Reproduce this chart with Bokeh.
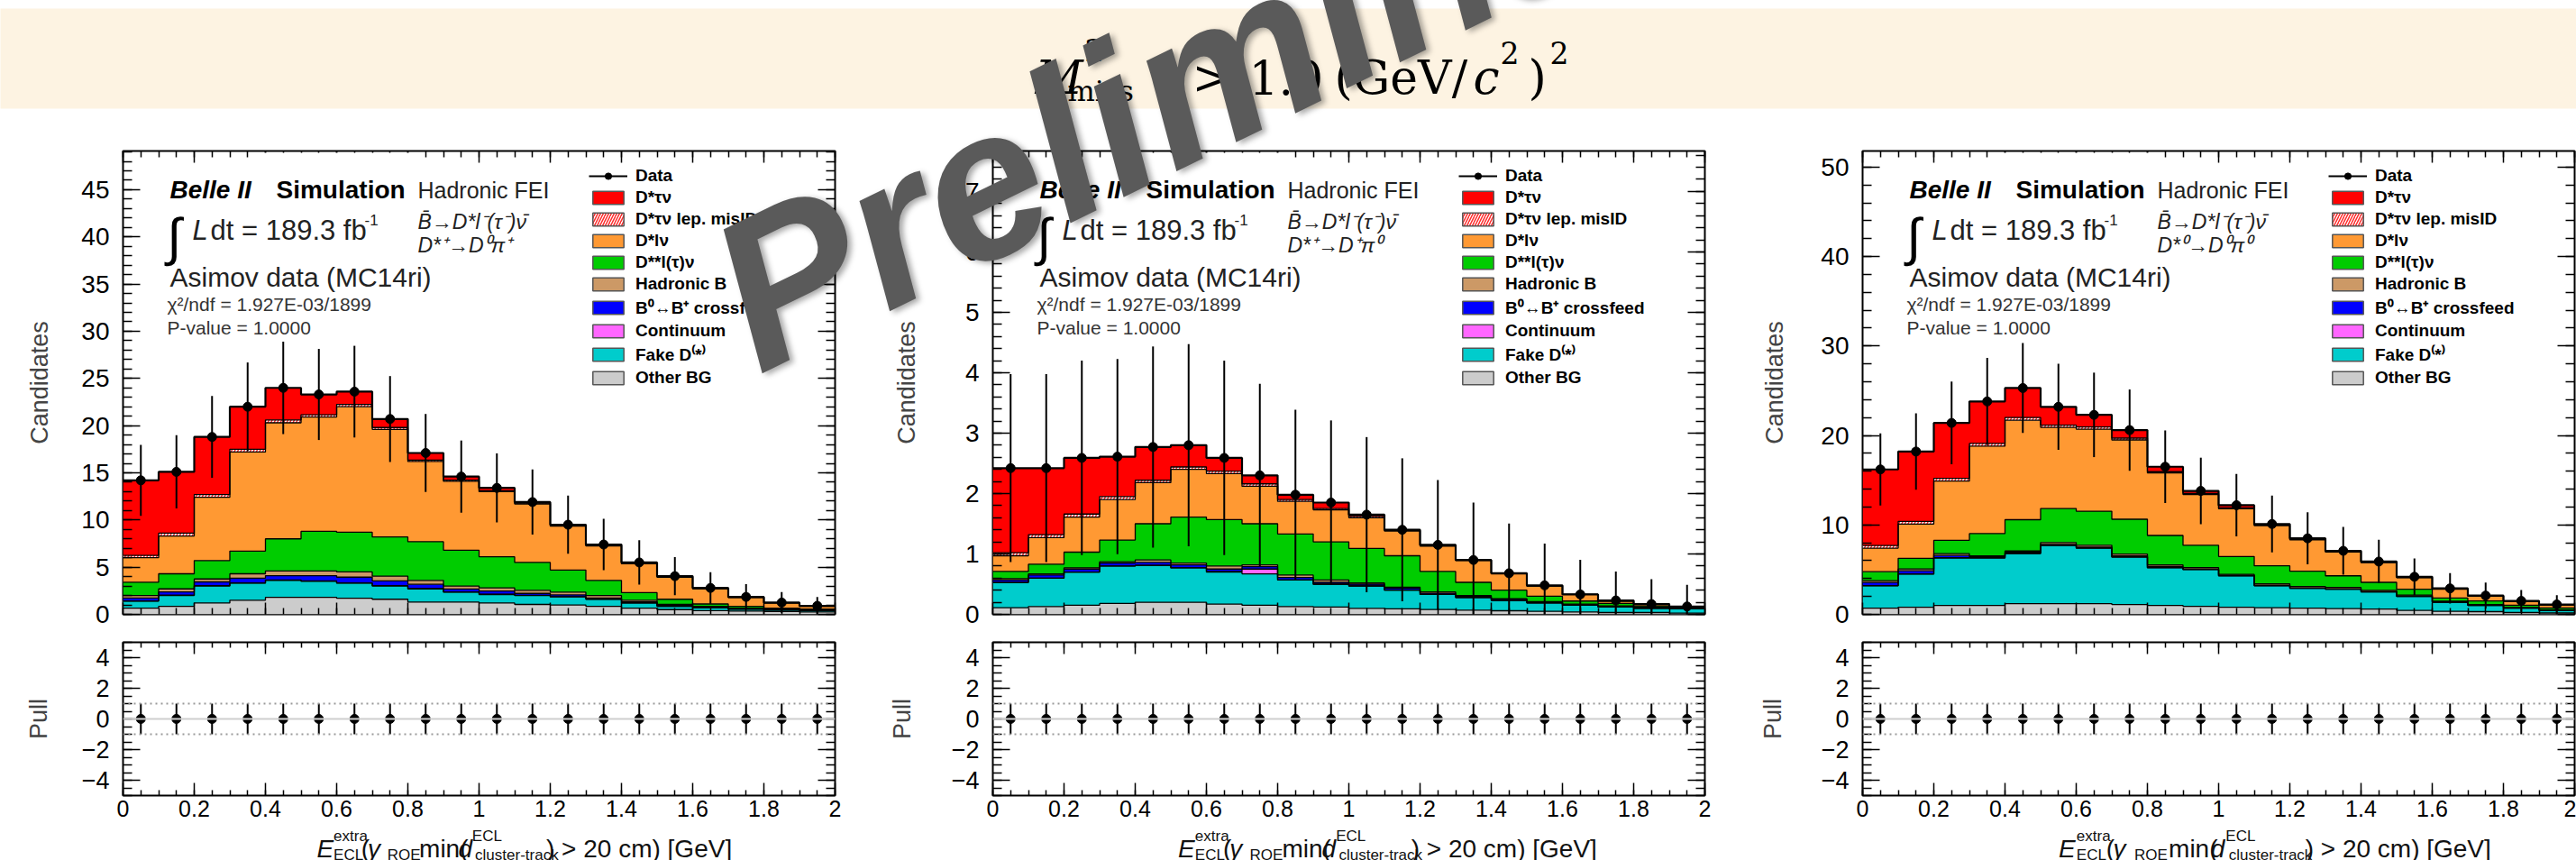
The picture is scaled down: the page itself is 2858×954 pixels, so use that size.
import math
import numpy as np
from bokeh.plotting import figure
from bokeh.models import (Range1d, LinearAxis, FixedTicker, Label, Legend, LegendItem,
                          Span, BoxAnnotation, CustomJSTickFormatter, Div)
from bokeh.layouts import column, row
from bokeh.embed import file_html
from bokeh.resources import INLINE

# ---------------------------------------------------------------- data
bin_edges = [0.0, 0.1, 0.2, 0.3, 0.4, 0.5, 0.6, 0.7, 0.8, 0.9, 1.0,
             1.1, 1.2, 1.3, 1.4, 1.5, 1.6, 1.7, 1.8, 1.9, 2.0]
bin_centers = [0.05, 0.15, 0.25, 0.35, 0.45, 0.55, 0.65, 0.75, 0.85, 0.95,
               1.05, 1.15, 1.25, 1.35, 1.45, 1.55, 1.65, 1.75, 1.85, 1.95]
x_tick_values = [0.0, 0.2, 0.4, 0.6, 0.8, 1.0, 1.2, 1.4, 1.6, 1.8, 2.0]
x_tick_labels = ["0", "0.2", "0.4", "0.6", "0.8", "1", "1.2", "1.4", "1.6", "1.8", "2"]

decay_modes = ["D*⁺→D⁰π⁺", "D*⁺→D⁺π⁰", "D*⁰→D⁰π⁰"]

# panel 1 : D*+ -> D0 pi+
p1_data = [14.2, 15.1, 18.8, 22.0, 24.0, 23.3, 23.6, 20.7, 17.1, 14.6, 13.4, 11.9, 9.5, 7.4, 5.5, 4.05, 2.8, 1.85, 1.25, 0.9]
p1_other = [0.65, 0.85, 1.2, 1.5, 1.8, 1.8, 1.7, 1.6, 1.3, 1.3, 1.2, 1.05, 1.0, 0.85, 0.65, 0.5, 0.4, 0.35, 0.3, 0.25]
p1_fake = [0.75, 1.15, 1.8, 1.8, 1.8, 1.7, 1.6, 1.4, 1.4, 1.05, 0.9, 0.95, 0.85, 0.75, 0.55, 0.35, 0.3, 0.2, 0.15, 0.15]
p1_cont = [0.03, 0.03, 0.04, 0.04, 0.05, 0.05, 0.04, 0.04, 0.03, 0.03, 0.03, 0.02, 0.02, 0.02, 0.02, 0.01, 0.01, 0.01, 0.01, 0.01]
p1_xfeed = [0.3, 0.35, 0.4, 0.5, 0.45, 0.55, 0.6, 0.5, 0.45, 0.3, 0.35, 0.2, 0.2, 0.12, 0.1, 0.08, 0.05, 0.04, 0.03, 0.02]
p1_hadb = [0.27, 0.32, 0.31, 0.46, 0.5, 0.5, 0.56, 0.51, 0.42, 0.32, 0.32, 0.33, 0.28, 0.26, 0.18, 0.11, 0.09, 0.05, 0.06, 0.02]
p1_dss = [1.4, 1.6, 1.95, 2.4, 3.4, 4.2, 4.2, 4.15, 4.1, 3.8, 3.3, 2.95, 2.35, 1.6, 0.8, 0.55, 0.25, 0.2, 0.1, 0.1]
p1_dsl = [2.6, 4.0, 6.7, 10.5, 12.3, 12.1, 13.3, 11.4, 8.5, 7.3, 6.9, 6.2, 4.64, 3.65, 3.06, 2.34, 1.62, 0.93, 0.55, 0.31]
p1_misid = [0.25, 0.3, 0.3, 0.3, 0.3, 0.25, 0.25, 0.2, 0.15, 0.12, 0.1, 0.08, 0.06, 0.05, 0.04, 0.03, 0.02, 0.02, 0.01, 0.01]
p1_dtn = [7.95, 6.5, 6.1, 4.5, 3.4, 2.15, 1.35, 0.9, 0.75, 0.38, 0.3, 0.12, 0.1, 0.1, 0.1, 0.08, 0.06, 0.05, 0.04, 0.03]

# panel 2 : D*+ -> D+ pi0
p2_data = [2.42, 2.42, 2.59, 2.61, 2.77, 2.80, 2.59, 2.30, 1.98, 1.85, 1.65, 1.40, 1.15, 0.90, 0.68, 0.48, 0.33, 0.23, 0.17, 0.13]
p2_other = [0.11, 0.13, 0.15, 0.18, 0.20, 0.20, 0.17, 0.15, 0.13, 0.12, 0.10, 0.09, 0.08, 0.07, 0.06, 0.05, 0.04, 0.03, 0.03, 0.02]
p2_fake = [0.42, 0.47, 0.55, 0.62, 0.61, 0.57, 0.53, 0.52, 0.44, 0.38, 0.37, 0.31, 0.25, 0.21, 0.17, 0.14, 0.11, 0.09, 0.07, 0.07]
p2_cont = [0.0, 0.0, 0.0, 0.0, 0.0, 0.0, 0.01, 0.08, 0.0, 0.0, 0.0, 0.0, 0.0, 0.0, 0.0, 0.0, 0.0, 0.0, 0.0, 0.0]
p2_xfeed = [0.04, 0.05, 0.05, 0.05, 0.05, 0.05, 0.04, 0.04, 0.04, 0.03, 0.03, 0.03, 0.02, 0.02, 0.02, 0.01, 0.01, 0.01, 0.01, 0.01]
p2_hadb = [0.02, 0.02, 0.02, 0.02, 0.04, 0.03, 0.05, 0.03, 0.04, 0.04, 0.02, 0.02, 0.02, 0.01, 0.01, 0.01, 0.01, 0.01, 0.01, 0.01]
p2_dss = [0.12, 0.16, 0.26, 0.36, 0.60, 0.76, 0.77, 0.68, 0.68, 0.63, 0.57, 0.52, 0.34, 0.22, 0.14, 0.09, 0.05, 0.04, 0.02, 0.01]
p2_dsl = [0.26, 0.44, 0.58, 0.67, 0.68, 0.79, 0.76, 0.62, 0.54, 0.53, 0.51, 0.41, 0.42, 0.36, 0.27, 0.17, 0.11, 0.04, 0.03, 0.01]
p2_misid = [0.05, 0.05, 0.05, 0.05, 0.04, 0.04, 0.04, 0.04, 0.03, 0.02, 0.02, 0.01, 0.01, 0.01, 0.01, 0.0, 0.0, 0.0, 0.0, 0.0]
p2_dtn = [1.40, 1.10, 0.93, 0.66, 0.55, 0.36, 0.22, 0.14, 0.08, 0.10, 0.03, 0.01, 0.01, 0.0, 0.0, 0.01, 0.0, 0.01, 0.0, 0.0]

# panel 3 : D*0 -> D0 pi0
p3_data = [16.2, 18.2, 21.4, 23.8, 25.3, 23.2, 22.3, 20.6, 16.5, 13.8, 12.2, 10.1, 8.5, 7.1, 5.9, 4.2, 2.9, 2.1, 1.5, 1.1]
p3_other = [0.7, 0.8, 1.0, 1.0, 1.2, 1.2, 1.2, 1.1, 1.0, 0.9, 0.8, 0.75, 0.7, 0.65, 0.6, 0.45, 0.35, 0.3, 0.2, 0.15]
p3_fake = [2.5, 3.7, 5.3, 5.3, 5.6, 6.5, 6.2, 5.3, 4.2, 4.1, 3.5, 2.45, 2.2, 2.15, 1.9, 1.55, 1.0, 0.7, 0.5, 0.3]
p3_cont = [0.02, 0.02, 0.03, 0.03, 0.03, 0.03, 0.03, 0.03, 0.02, 0.02, 0.02, 0.02, 0.02, 0.01, 0.01, 0.01, 0.01, 0.01, 0.0, 0.0]
p3_xfeed = [0.35, 0.35, 0.25, 0.1, 0.1, 0.1, 0.1, 0.1, 0.1, 0.05, 0.05, 0.05, 0.05, 0.05, 0.05, 0.04, 0.03, 0.03, 0.02, 0.02]
p3_hadb = [0.2, 0.2, 0.2, 0.1, 0.15, 0.2, 0.2, 0.2, 0.2, 0.15, 0.1, 0.15, 0.15, 0.15, 0.12, 0.1, 0.08, 0.06, 0.05, 0.04]
p3_dss = [1.0, 1.2, 1.5, 2.5, 3.5, 3.8, 3.8, 3.9, 3.3, 2.5, 2.0, 2.0, 1.7, 1.3, 0.9, 0.65, 0.35, 0.4, 0.25, 0.2]
p3_dsl = [2.63, 3.83, 6.62, 9.77, 11.12, 9.07, 9.17, 8.87, 6.98, 5.68, 5.33, 4.5, 3.52, 2.66, 2.2, 1.3, 1.0, 0.53, 0.43, 0.35]
p3_misid = [0.3, 0.3, 0.3, 0.3, 0.3, 0.25, 0.25, 0.2, 0.15, 0.12, 0.1, 0.08, 0.06, 0.05, 0.04, 0.03, 0.02, 0.02, 0.01, 0.01]
p3_dtn = [8.5, 7.8, 6.2, 4.7, 3.3, 2.05, 1.35, 0.9, 0.55, 0.28, 0.3, 0.1, 0.1, 0.08, 0.08, 0.07, 0.06, 0.05, 0.04, 0.03]

# pull panel (identical for the three channels)
pull_values = [0, 0, 0, 0, 0, 0, 0, 0, 0, 0, 0, 0, 0, 0, 0, 0, 0, 0, 0, 0]
pull_errors = [1, 1, 1, 1, 1, 1, 1, 1, 1, 1, 1, 1, 1, 1, 1, 1, 1, 1, 1, 1]

# stacking order (bottom -> top): key, legend label, colour
COMPONENTS = [
    ("other", "Other BG", "#cccccc"),
    ("fake", "Fake D⁽*⁾", "#00cccc"),
    ("cont", "Continuum", "#ff66ff"),
    ("xfeed", "B⁰↔B⁺ crossfeed", "#0000ff"),
    ("hadb", "Hadronic B", "#cc9966"),
    ("dss", "D**l(τ)ν", "#00cc00"),
    ("dsl", "D*lν", "#ff9933"),
    ("misid", "D*τν lep. misID", "hatch"),
    ("dtn", "D*τν", "#ff0000"),
]

panels = [
    dict(data=p1_data, comp=dict(other=p1_other, fake=p1_fake, cont=p1_cont, xfeed=p1_xfeed,
                                 hadb=p1_hadb, dss=p1_dss, dsl=p1_dsl, misid=p1_misid, dtn=p1_dtn)),
    dict(data=p2_data, comp=dict(other=p2_other, fake=p2_fake, cont=p2_cont, xfeed=p2_xfeed,
                                 hadb=p2_hadb, dss=p2_dss, dsl=p2_dsl, misid=p2_misid, dtn=p2_dtn)),
    dict(data=p3_data, comp=dict(other=p3_other, fake=p3_fake, cont=p3_cont, xfeed=p3_xfeed,
                                 hadb=p3_hadb, dss=p3_dss, dsl=p3_dsl, misid=p3_misid, dtn=p3_dtn)),
]

# ---------------------------------------------------------------- layout constants (page px)
FONT = "Liberation Sans"
SERIF = "DejaVu Serif"
PAGE_W = 2858
BAND_H = 140                      # 0 .. 140
MAIN_TOP, MAIN_H = 140, 557       # 140 .. 697
PULL_TOP, PULL_H = 697, 217       # 697 .. 914
XT_TOP, XT_H = 914, 40            # 914 .. 954
FT, FB = 167, 681                 # main frame
PT, PB = 712, 882                 # pull frame

STRIPS = [
    dict(left=0, width=981, ml=136, mr=55, ymax=49.1, ystep=5, yminor=1, cand_st=28, pull_st=30),
    dict(left=981, width=965, ml=120, mr=55, ymax=7.67, ystep=1, yminor=0.2, cand_st=47, pull_st=37),
    dict(left=1946, width=912, ml=120, mr=2, ymax=51.8, ystep=10, yminor=2, cand_st=33, pull_st=36),
]


def mapper(fl, fr, ft, fb, x0, x1, y0, y1):
    def f(px, py):
        return (x0 + (px - fl) * (x1 - x0) / (fr - fl),
                y0 + (fb - py) * (y1 - y0) / (fb - ft))
    return f


def put(p, m, px, py, text, size, style="normal", color="black", font=FONT,
        align="left", baseline="alphabetic"):
    x, y = m(px, py)
    p.add_layout(Label(x=x, y=y, text=text, text_font=font, text_font_size=f"{size}px",
                       text_font_style=style, text_color=color, text_align=align,
                       text_baseline=baseline))


def frange(a, b, s):
    n = int(round((b - a) / s))
    return [round(a + i * s, 6) for i in range(n + 1)]


def make_axis(ticks, minor, tin, min_in, labels=True, size="28px", standoff=15):
    ax = LinearAxis(ticker=FixedTicker(ticks=ticks, minor_ticks=minor))
    ax.axis_line_color = None
    ax.major_tick_in, ax.major_tick_out = tin, 0
    ax.minor_tick_in, ax.minor_tick_out = min_in, 0
    ax.major_tick_line_color = "black"
    ax.minor_tick_line_color = "black"
    ax.major_tick_line_width = 1.5
    ax.minor_tick_line_width = 1.5
    if labels:
        ax.major_label_text_font = FONT
        ax.major_label_text_font_size = size
        ax.major_label_text_color = "black"
        ax.major_label_standoff = standoff
    else:
        ax.formatter = CustomJSTickFormatter(code="return ''")
        ax.major_label_text_font_size = "0px"
        ax.major_label_standoff = 0
    return ax


def step_xy(vals):
    e = np.array(bin_edges)
    xs = np.repeat(e, 2)[1:-1]
    ys = np.repeat(np.asarray(vals, dtype=float), 2)
    return xs, ys


def blank(width, height, xr, yr):
    f = figure(width=width, height=height, x_range=Range1d(*xr), y_range=Range1d(*yr),
               output_backend="svg", toolbar_location=None,
               x_axis_location=None, y_axis_location=None,
               min_border_left=0, min_border_right=0, min_border_top=0, min_border_bottom=0)
    f.grid.visible = False
    f.outline_line_color = None
    return f


x_minor = frange(0, 2, 0.05)

# ---------------------------------------------------------------- title band
band = figure(width=PAGE_W, height=BAND_H, x_range=Range1d(0, PAGE_W), y_range=Range1d(120, 9),
              output_backend="svg", toolbar_location=None,
              x_axis_location=None, y_axis_location=None,
              min_border_left=0, min_border_right=0, min_border_top=9, min_border_bottom=20)
band.grid.visible = False
band.outline_line_color = None
band.background_fill_color = "#fdf3e2"
band.border_fill_color = "white"
bm = lambda px, py: (px, py)
put(band, bm, 1148, 85, "M", 52, "italic", font=SERIF)
put(band, bm, 1203, 55, "2", 33, font=SERIF)
put(band, bm, 1184, 100, "miss", 32, font=SERIF)
put(band, bm, 1322, 85, ">", 52, font=SERIF)
put(band, bm, 1385, 85, "1.0", 52, font=SERIF)
put(band, bm, 1480, 85, "(GeV/", 52, font=SERIF)
put(band, bm, 1634, 85, "c", 52, "italic", font=SERIF)
put(band, bm, 1664, 58, "2", 33, font=SERIF)
put(band, bm, 1695, 85, ")", 52, font=SERIF)
put(band, bm, 1719, 58, "2", 33, font=SERIF)

# ---------------------------------------------------------------- panels
strips = []
for i, (cfg, pan) in enumerate(zip(STRIPS, panels)):
    fl = cfg["left"] + cfg["ml"]
    fr = cfg["left"] + cfg["width"] - cfg["mr"]
    ymax = cfg["ymax"]

    # ---------------- main histogram
    p = figure(width=cfg["width"], height=MAIN_H, x_range=Range1d(0, 2), y_range=Range1d(0, ymax),
               output_backend="svg", toolbar_location=None,
               x_axis_location=None, y_axis_location=None,
               min_border_left=cfg["ml"], min_border_right=cfg["mr"],
               min_border_top=FT - MAIN_TOP, min_border_bottom=MAIN_TOP + MAIN_H - FB)
    p.grid.visible = False
    p.outline_line_color = "black"
    p.outline_line_width = 2
    m = mapper(fl, fr, FT, FB, 0, 2, 0, ymax)

    ymaj = frange(0, math.floor(ymax / cfg["ystep"]) * cfg["ystep"], cfg["ystep"])
    ymin = frange(0, math.floor(ymax / cfg["yminor"]) * cfg["yminor"], cfg["yminor"])
    ly = make_axis(ymaj, ymin, 19, 10, True, "28px", 15)
    ly.axis_label = "Candidates"
    ly.axis_label_text_font = FONT
    ly.axis_label_text_font_style = "normal"
    ly.axis_label_text_font_size = "27px"
    ly.axis_label_standoff = cfg["cand_st"]
    p.add_layout(ly, "left")
    p.add_layout(make_axis(ymaj, ymin, 19, 10, False), "right")
    p.add_layout(make_axis(x_tick_values, x_minor, 13, 7, False), "above")
    p.add_layout(make_axis(x_tick_values, x_minor, 13, 7, False), "below")

    # stacked histogram
    lower = np.zeros(len(bin_centers))
    levels = []
    for key, label, color in COMPONENTS:
        upper = lower + np.asarray(pan["comp"][key], dtype=float)
        xt_, yt_ = step_xy(upper)
        xb_, yb_ = step_xy(lower)
        pxs = np.concatenate([xt_, xb_[::-1]])
        pys = np.concatenate([yt_, yb_[::-1]])
        if color == "hatch":
            p.patch(pxs, pys, fill_color="white", hatch_pattern="/", hatch_color="#ff2a2a",
                    hatch_weight=1.5, hatch_scale=7, line_color=None)
        else:
            p.patch(pxs, pys, fill_color=color, line_color=None)
        levels.append(upper)
        lower = upper
    for k, up in enumerate(levels):
        xs_, ys_ = step_xy(up)
        p.line(xs_, ys_, line_color="black", line_width=2.2 if k == len(levels) - 1 else 1.3)

    # Asimov data points (Poisson errors)
    d = np.asarray(pan["data"], dtype=float)
    err = np.sqrt(d)
    p.segment(x0=bin_centers, y0=d - err, x1=bin_centers, y1=d + err,
              line_color="black", line_width=2)
    p.scatter(bin_centers, d, size=10, color="black")

    # legend (legend-only renderers that draw nothing in the frame)
    nan = [float("nan")]
    r_line = p.line(nan, nan, line_color="black", line_width=2)
    r_pt = p.scatter(nan, nan, size=9, color="black")
    items = [LegendItem(label="Data", renderers=[r_line, r_pt])]
    for key, label, color in reversed(COMPONENTS):
        if color == "hatch":
            r = p.quad(left=nan, right=nan, top=nan, bottom=nan, fill_color="white",
                       hatch_pattern="/", hatch_color="#ff2a2a", hatch_weight=1.5,
                       hatch_scale=6, line_color="#555555", line_width=1.5)
        else:
            r = p.quad(left=nan, right=nan, top=nan, bottom=nan, fill_color=color,
                       line_color="#555555", line_width=1.5)
        items.append(LegendItem(label=label, renderers=[r]))
    leg = Legend(items=items, location=(517, 251), glyph_width=43, glyph_height=18,
                 label_height=18, spacing=2, padding=0, margin=0, label_standoff=9,
                 border_line_color=None, background_fill_alpha=0,
                 label_text_font=FONT, label_text_font_style="bold",
                 label_text_font_size="19px", label_text_color="black")
    p.add_layout(leg)

    # white box behind "Simulation"
    bx0, by0 = m(fl + 156, FT + 2)
    bx1, by1 = m(fl + 326, FT + 50)
    p.add_layout(BoxAnnotation(left=bx0, right=bx1, top=by0, bottom=by1,
                               fill_color="white", fill_alpha=1.0, line_color=None))

    # texts
    put(p, m, fl + 52, 210, "Belle II", 28, "bold italic", "black")
    put(p, m, fl + 170, 210, "Simulation", 28, "bold", "black")
    put(p, m, fl + 327, 210, "Hadronic FEI", 25, "normal", "#222222")
    put(p, m, fl + 49, 262, "∫", 58, "normal", "black")
    put(p, m, fl + 77, 255, "L", 31, "italic", "#222222")
    put(p, m, fl + 97, 255, "dt = 189.3 fb", 31, "normal", "#222222")
    put(p, m, fl + 268, 243, "-1", 17, "normal", "#222222")
    put(p, m, fl + 327, 245, "B̄→D*l⁻(τ⁻)ν̄", 23, "italic", "#222222")
    put(p, m, fl + 327, 271, decay_modes[i], 23, "italic", "#222222")
    put(p, m, fl + 52, 307, "Asimov data (MC14ri)", 30, "normal", "#222222")
    put(p, m, fl + 49, 337, "χ²/ndf = 1.927E-03/1899", 21, "normal", "#333333")
    put(p, m, fl + 49, 363, "P-value = 1.0000", 21, "normal", "#333333")

    # ---------------- pull panel
    u = figure(width=cfg["width"], height=PULL_H, x_range=Range1d(0, 2), y_range=Range1d(-5, 5),
               output_backend="svg", toolbar_location=None,
               x_axis_location=None, y_axis_location=None,
               min_border_left=cfg["ml"], min_border_right=cfg["mr"],
               min_border_top=PT - PULL_TOP, min_border_bottom=PULL_TOP + PULL_H - PB)
    u.grid.visible = False
    u.outline_line_color = "black"
    u.outline_line_width = 2
    pmaj = [-4, -2, 0, 2, 4]
    pmin = frange(-5, 5, 0.5)
    uly = make_axis(pmaj, pmin, 19, 10, True, "27px", 15)
    uly.axis_label = "Pull"
    uly.axis_label_text_font = FONT
    uly.axis_label_text_font_style = "normal"
    uly.axis_label_text_font_size = "27px"
    uly.axis_label_standoff = cfg["pull_st"]
    u.add_layout(uly, "left")
    u.add_layout(make_axis(pmaj, pmin, 19, 10, False), "right")
    u.add_layout(make_axis(x_tick_values, x_minor, 13, 6, False), "above")
    ulx = make_axis(x_tick_values, x_minor, 14, 6, True, "25px", 5)
    ulx.major_label_overrides = {v: s for v, s in zip(x_tick_values, x_tick_labels)}
    u.add_layout(ulx, "below")

    u.add_layout(Span(location=0, dimension="width", line_color="#cfcfcf", line_width=2))
    for lv in (1, -1):
        u.add_layout(Span(location=lv, dimension="width", line_color="#9a9a9a",
                          line_dash="dotted", line_width=2))
    pv = np.asarray(pull_values, dtype=float)
    pe = np.asarray(pull_errors, dtype=float)
    u.segment(x0=bin_centers, y0=pv - pe, x1=bin_centers, y1=pv + pe,
              line_color="black", line_width=2)
    u.scatter(bin_centers, pv, size=10, color="black")

    # ---------------- x-axis title strip (data coords == page px)
    xt = blank(cfg["width"], XT_H, (cfg["left"], cfg["left"] + cfg["width"]),
               (XT_TOP + XT_H, XT_TOP))
    tm = lambda px, py: (px, py)
    pieces = [
        ("E", 131, 941, 28, "italic"),
        ("extra", 154, 927, 17, "normal"),
        ("ECL", 154, 948, 17, "normal"),
        ("(", 192, 941, 28, "normal"),
        ("γ", 201, 941, 28, "italic"),
        ("ROE", 228, 948, 17, "normal"),
        ("min(", 272, 941, 28, "normal"),
        ("d", 326, 941, 28, "italic"),
        ("ECL", 345, 927, 17, "normal"),
        ("cluster-track", 349, 948, 17, "normal"),
        (") > 20 cm) [GeV]", 447, 941, 28, "normal"),
    ]
    for txt, dx, py, sz, st in pieces:
        put(xt, tm, fl + dx, py, txt, sz, st, "#111111")

    strips.append(column(p, u, xt, spacing=0))

# ---------------------------------------------------------------- "Preliminary" watermark
# An absolutely positioned HTML overlay: it crosses the title band and two panels.
WM_LEFT, WM_BASE = 842, 416               # text origin (page px)
WM_SIZE = 236
WM_ASC = round(WM_SIZE * 0.8465)          # baseline offset inside a line box of WM_SIZE
wm_html = (
    f'<div style="position:absolute; left:{WM_LEFT}px; top:{WM_BASE - WM_ASC}px; '
    f"font-family:'Liberation Sans', Arial, sans-serif; font-weight:bold; font-style:italic; "
    f'font-size:{WM_SIZE}px; line-height:{WM_SIZE}px; color:#5a5a5a; white-space:nowrap; '
    f'transform-origin:0px {WM_ASC}px; transform:rotate(-26deg); '
    f'text-shadow:3px 4px 6px rgba(0,0,0,0.35); pointer-events:none;">Preliminary</div>'
)
wm = Div(text=wm_html, width=1, height=1,
         stylesheets=[":host { position:absolute !important; left:0px !important; top:0px !important; "
                      "overflow:visible !important; z-index:50 !important; pointer-events:none !important; "
                      "width:1px !important; height:1px !important; margin:0 !important; }"
                      " .bk-clearfix, div { overflow:visible !important; }"])

layout = column(band, row(*strips, spacing=0), wm, spacing=0,
                stylesheets=[":host { position:relative !important; }"])

with open("out.html", "w") as f:
    f.write(file_html(layout, INLINE))
